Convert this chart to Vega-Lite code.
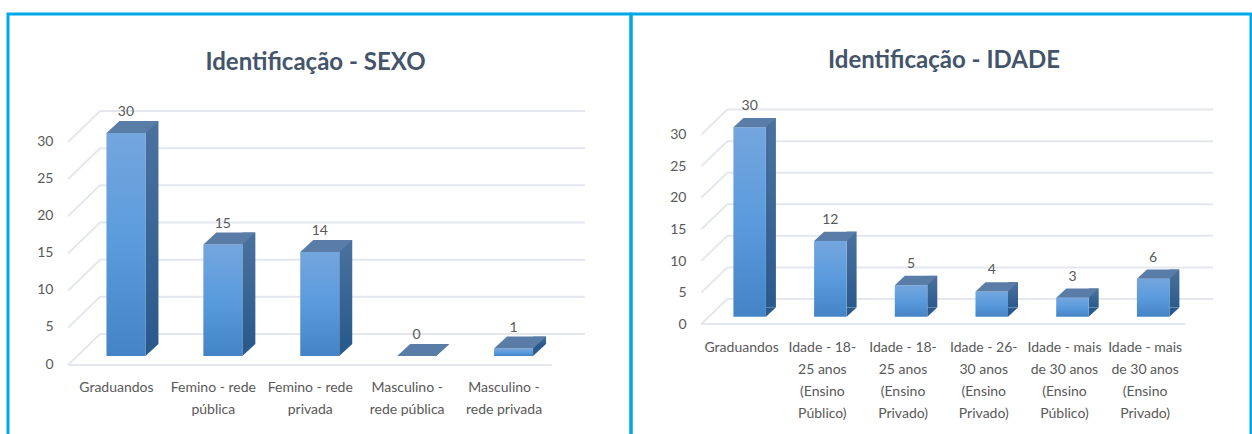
{"$schema":"https://vega.github.io/schema/vega-lite/v6.json","autosize":"none","padding":{"left":8,"top":14,"right":1244,"bottom":420},"bounds":"flush","spacing":0,"background":"white","config":{"font":"Lato","axis":{"grid":false,"ticks":false,"domain":false,"labelColor":"#595959","labelFont":"Lato","labelFontSize":14,"title":null},"title":{"font":"Lato","fontSize":24,"fontWeight":"bold","color":"#44546a"}},"datasets":{"ticks":[{"tick":0},{"tick":5},{"tick":10},{"tick":15},{"tick":20},{"tick":25},{"tick":30}]},"hconcat":[{"width":623,"height":423,"view":{"stroke":"#00a8e8","strokeWidth":3},"title":{"text":"Identificação - SEXO","offset":-61,"dx":-4},"data":{"values":[{"categoria":"Graduandos","valor":30},{"categoria":"Femino - rede\npública","valor":15},{"categoria":"Femino - rede\nprivada","valor":14},{"categoria":"Masculino -\nrede pública","valor":0},{"categoria":"Masculino -\nrede privada","valor":1}]},"encoding":{"x":{"field":"categoria","type":"nominal","sort":null,"scale":{"range":[60,544.5],"paddingInner":0,"paddingOuter":0},"axis":{"orient":"bottom","offset":-57,"labelAngle":0,"labelLimit":0,"labelPadding":0,"labelBaseline":"top","labelLineHeight":22,"labelExpr":"split(datum.label,'\\n')"}},"y":{"field":"valor","type":"quantitative","stack":null,"scale":{"domain":[0,30],"range":[342,119],"nice":false},"axis":{"orient":"left","offset":-45,"values":[0,5,10,15,20,25,30],"labelPadding":0,"labelOffset":8}}},"layer":[{"data":{"name":"ticks"},"mark":{"type":"point","shape":"M0,9L32,-22L517,-22","size":4,"filled":false,"opacity":1,"stroke":"#e4e8ee","strokeWidth":2,"xOffset":-48.45},"encoding":{"x":{"datum":"Graduandos"},"y":{"field":"tick","type":"quantitative"}}},{"data":{"values":[{"tick":0}]},"mark":{"type":"point","shape":"M0,9L484,9","size":4,"filled":false,"opacity":1,"stroke":"#e4e8ee","strokeWidth":2,"xOffset":-48.45},"encoding":{"x":{"datum":"Graduandos"},"y":{"field":"tick","type":"quantitative"}}},{"mark":{"type":"bar","width":13,"xOffset":35.5,"yOffset":-12,"y2Offset":-12,"fill":{"gradient":"linear","x1":0,"y1":0,"x2":0,"y2":1,"stops":[{"offset":0,"color":"#4a729f"},{"offset":1,"color":"#2a5a8c"}]}},"encoding":{"y2":{"datum":0}}},{"mark":{"type":"point","shape":"M19.5,0L19.5,-12L32.5,-12Z","size":4,"filled":true,"opacity":1,"color":"#2a5a8c","strokeWidth":0,"xOffset":9.5},"encoding":{"y":{"datum":0}}},{"mark":{"type":"bar","width":39,"xOffset":9.5,"fill":{"gradient":"linear","x1":0,"y1":0,"x2":0,"y2":1,"stops":[{"offset":0,"color":"#74a6de"},{"offset":0.5,"color":"#5a9bdd"},{"offset":1,"color":"#4484c6"}]}}},{"mark":{"type":"point","shape":"M-19.5,0L-6.5,-12L32.5,-12L19.5,0Z","size":4,"filled":true,"opacity":1,"color":"#5a7da8","strokeWidth":0,"xOffset":9.5}},{"mark":{"type":"text","xOffset":9.5,"yOffset":-21,"fontSize":14,"color":"#595959","baseline":"middle"},"encoding":{"text":{"field":"valor","type":"quantitative"}}}]},{"width":620,"height":423,"view":{"stroke":"#00a8e8","strokeWidth":3},"title":{"text":"Identificação - IDADE","offset":-59,"dx":3},"data":{"values":[{"categoria":"Graduandos","valor":30},{"categoria":"Idade - 18-\n25 anos\n(Ensino\nPúblico)","valor":12},{"categoria":"Idade - 18-\n25 anos\n(Ensino\nPrivado)","valor":5},{"categoria":"Idade - 26-\n30 anos\n(Ensino\nPrivado)","valor":4},{"categoria":"Idade - mais\nde 30 anos\n(Ensino\nPúblico)","valor":3},{"categoria":"Idade - mais\nde 30 anos\n(Ensino\nPrivado)","valor":6}]},"encoding":{"x":{"field":"categoria","type":"nominal","sort":null,"scale":{"range":[70.3,554.5],"paddingInner":0,"paddingOuter":0},"axis":{"orient":"bottom","offset":-97,"labelAngle":0,"labelLimit":0,"labelPadding":0,"labelBaseline":"top","labelLineHeight":22,"labelExpr":"split(datum.label,'\\n')"}},"y":{"field":"valor","type":"quantitative","stack":null,"scale":{"domain":[0,30],"range":[302.7,113.3],"nice":false},"axis":{"orient":"left","offset":-55,"values":[0,5,10,15,20,25,30],"labelPadding":0,"labelOffset":7.5}}},"layer":[{"data":{"name":"ticks"},"mark":{"type":"point","shape":"M0,7.3L26,-17.7L511.7,-17.7","size":4,"filled":false,"opacity":1,"stroke":"#e4e8ee","strokeWidth":2,"xOffset":-40.35},"encoding":{"x":{"datum":"Graduandos"},"y":{"field":"tick","type":"quantitative"}}},{"data":{"values":[{"tick":0}]},"mark":{"type":"point","shape":"M0,7.3L484,7.3","size":4,"filled":false,"opacity":1,"stroke":"#e4e8ee","strokeWidth":2,"xOffset":-40.35},"encoding":{"x":{"datum":"Graduandos"},"y":{"field":"tick","type":"quantitative"}}},{"mark":{"type":"bar","width":10,"xOffset":29.25,"yOffset":-9.3,"y2Offset":-9.3,"fill":{"gradient":"linear","x1":0,"y1":0,"x2":0,"y2":1,"stops":[{"offset":0,"color":"#4a729f"},{"offset":1,"color":"#2a5a8c"}]}},"encoding":{"y2":{"datum":0}}},{"mark":{"type":"point","shape":"M16.25,0L16.25,-9.3L26.25,-9.3Z","size":4,"filled":true,"opacity":1,"color":"#2a5a8c","strokeWidth":0,"xOffset":8},"encoding":{"y":{"datum":0}}},{"mark":{"type":"bar","width":32.5,"xOffset":8,"fill":{"gradient":"linear","x1":0,"y1":0,"x2":0,"y2":1,"stops":[{"offset":0,"color":"#74a6de"},{"offset":0.5,"color":"#5a9bdd"},{"offset":1,"color":"#4484c6"}]}}},{"mark":{"type":"point","shape":"M-16.25,0L-6.25,-9.3L26.25,-9.3L16.25,0Z","size":4,"filled":true,"opacity":1,"color":"#5a7da8","strokeWidth":0,"xOffset":8}},{"mark":{"type":"text","xOffset":8,"yOffset":-21,"fontSize":14,"color":"#595959","baseline":"middle"},"encoding":{"text":{"field":"valor","type":"quantitative"}}}]}]}
